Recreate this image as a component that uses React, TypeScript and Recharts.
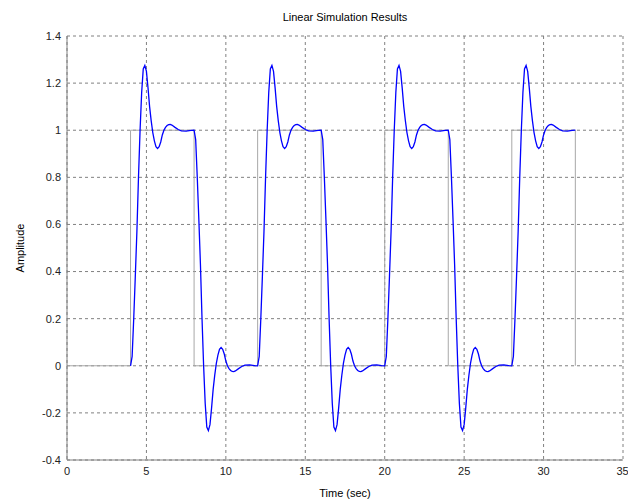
import React from 'react';
import { LineChart, Line, XAxis, YAxis, CartesianGrid } from 'recharts';

// square-wave input: level switches at these times, ends at 32 s
const stepTimes = [4, 8, 12, 16, 20, 24, 28];
const stepLevels = [1, 0, 1, 0, 1, 0, 1];
const endTime = 32;

// one step response (time after the switch, normalised value)
const riseTau = [0, 0.1, 0.2, 0.3, 0.4, 0.5, 0.6, 0.7, 0.8, 0.9, 1.0, 1.1, 1.2, 1.3, 1.4, 1.5, 1.6, 1.7, 1.8, 1.9, 2.0, 2.1, 2.2, 2.3, 2.4, 2.5, 2.6, 2.8, 3.0, 3.2, 3.5, 3.8, 4.0];
const riseValue = [0, 0.04, 0.2, 0.38, 0.57, 0.8, 1.0, 1.16, 1.26, 1.275, 1.25, 1.18, 1.1, 1.04, 0.99, 0.955, 0.93, 0.922, 0.93, 0.95, 0.98, 1.0, 1.012, 1.02, 1.024, 1.025, 1.022, 1.012, 1.003, 0.997, 0.996, 0.999, 1.0];

const xTicks = [0, 5, 10, 15, 20, 25, 30, 35];
const yTicks = [-0.4, -0.2, 0, 0.2, 0.4, 0.6, 0.8, 1, 1.2, 1.4];

const inputData: { t: number; u: number }[] = [{ t: 0, u: 0 }];
stepTimes.forEach((t, i) => {
  inputData.push({ t, u: i === 0 ? 0 : stepLevels[i - 1] });
  inputData.push({ t, u: stepLevels[i] });
});
inputData.push({ t: endTime, u: stepLevels[stepLevels.length - 1] });
inputData.push({ t: endTime, u: 0 });

const outputData: { t: number; y: number }[] = [];
stepTimes.forEach((t0, i) => {
  const prev = i === 0 ? 0 : stepLevels[i - 1];
  const next = stepLevels[i];
  const limit = i < stepTimes.length - 1 ? stepTimes[i + 1] : endTime;
  riseTau.forEach((tau, k) => {
    const t = t0 + tau;
    if (t >= limit && i < stepTimes.length - 1) return;
    outputData.push({ t, y: prev + (next - prev) * riseValue[k] });
  });
});

const font = 'Arial, "Liberation Sans", sans-serif';
const tickStyle = { fill: '#222', fontSize: 11, fontFamily: font };
const fmt = (v: number) => String(Number(v.toFixed(1)));

export default function App() {
  return (
    <div style={{ position: 'absolute', left: 0, top: 0, width: 628, height: 504, background: '#fff', fontFamily: font }}>
      <LineChart width={628} height={504} margin={{ top: 36, right: 5, bottom: 14, left: 20 }}>
        <CartesianGrid stroke="#808080" strokeDasharray="3 3" />
        <XAxis
          dataKey="t"
          type="number"
          domain={[0, 35]}
          ticks={xTicks}
          allowDataOverflow
          height={30}
          stroke="#808080"
          tickLine={false}
          tickSize={0}
          tickMargin={7}
          tick={tickStyle}
        />
        <YAxis
          type="number"
          domain={[-0.4, 1.4]}
          ticks={yTicks}
          allowDataOverflow
          width={47}
          stroke="#808080"
          tickLine={false}
          tickSize={0}
          tickMargin={6}
          tick={tickStyle}
          tickFormatter={fmt}
        />
        <XAxis xAxisId="top" orientation="top" type="number" domain={[0, 35]} height={0} tick={false} tickLine={false} stroke="#808080" />
        <YAxis yAxisId="right" orientation="right" type="number" domain={[-0.4, 1.4]} width={0} tick={false} tickLine={false} stroke="#808080" />
        <Line data={inputData} dataKey="u" type="linear" stroke="#a8a8a8" strokeWidth={1} dot={false} isAnimationActive={false} />
        <Line data={outputData} dataKey="y" type="linear" stroke="#0000ff" strokeWidth={1.3} dot={false} isAnimationActive={false} />
      </LineChart>
      <div style={{ position: 'absolute', left: 67, width: 556, top: 11, textAlign: 'center', fontSize: 11, color: '#000' }}>
        Linear Simulation Results
      </div>
      <div style={{ position: 'absolute', left: 67, width: 556, top: 487, textAlign: 'center', fontSize: 11, color: '#000' }}>
        Time (sec)
      </div>
      <div style={{ position: 'absolute', left: 20, top: 248, transform: 'translate(-50%, -50%) rotate(-90deg)', fontSize: 11, color: '#000', whiteSpace: 'nowrap' }}>
        Amplitude
      </div>
    </div>
  );
}
